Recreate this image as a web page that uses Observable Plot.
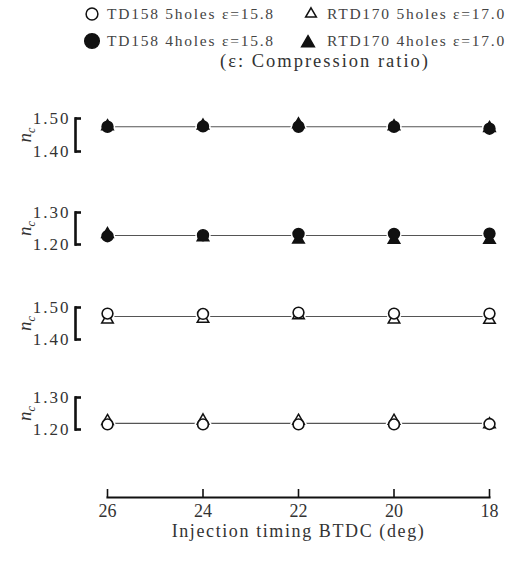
<!DOCTYPE html>
<html><head><meta charset="utf-8">
<script src="https://cdn.jsdelivr.net/npm/d3@7"></script>
<script src="https://cdn.jsdelivr.net/npm/@observablehq/plot@0.6"></script>
<style>
body{margin:0;background:#fff;}
#root{position:relative;width:511px;height:562px;font-family:"Liberation Serif","DejaVu Serif",serif;color:#333;overflow:hidden;}
.leg{position:absolute;font-size:15.5px;letter-spacing:1.75px;color:#444;white-space:nowrap;line-height:1;}
.legsym{position:absolute;overflow:visible;}
</style></head><body><div id="root"></div>
<script>
// ---- data ----
const timing = [26, 24, 22, 20, 18];
const timingTicks = [26, 24, 22, 20, 18];
const xTitle = "Injection timing BTDC (deg)";

const legendLabels = ["TD158 5holes ε=15.8", "RTD170 5holes ε=17.0", "TD158 4holes ε=15.8", "RTD170 4holes ε=17.0"];
const legendNote = "(ε: Compression ratio)";

// panel 1 : 4 holes, 1.40–1.50
const p1Ticks = [1.40, 1.50];
const p1TD158 = [1.475, 1.476, 1.475, 1.475, 1.469];
const p1RTD170 = [1.476, 1.478, 1.482, 1.476, 1.471];
const p1Level = 1.475;
// panel 2 : 4 holes, 1.20–1.30
const p2Ticks = [1.20, 1.30];
const p2TD158 = [1.226, 1.229, 1.233, 1.233, 1.234];
const p2RTD170 = [1.232, 1.222, 1.215, 1.214, 1.214];
const p2Level = 1.228;
// panel 3 : 5 holes, 1.40–1.50
const p3Ticks = [1.40, 1.50];
const p3TD158 = [1.481, 1.480, 1.484, 1.481, 1.481];
const p3RTD170 = [1.462, 1.464, 1.475, 1.462, 1.461];
const p3Level = 1.472;
// panel 4 : 5 holes, 1.20–1.30
const p4Ticks = [1.20, 1.30];
const p4TD158 = [1.216, 1.216, 1.216, 1.216, 1.217];
const p4RTD170 = [1.226, 1.228, 1.227, 1.227, 1.216];
const p4Level = 1.219;

const root = document.getElementById("root");
const ink = "#111";

function legendSym(x, y, kind, filled) {
  const s = document.createElementNS("http://www.w3.org/2000/svg", "svg");
  s.setAttribute("class", "legsym");
  s.setAttribute("width", 20); s.setAttribute("height", 20);
  s.style.left = (x - 10) + "px"; s.style.top = (y - 10) + "px";
  let el;
  if (kind === "circle") {
    el = document.createElementNS("http://www.w3.org/2000/svg", "circle");
    el.setAttribute("cx", 10); el.setAttribute("cy", 10);
    el.setAttribute("r", filled ? 7.3 : 5.9);
  } else {
    el = document.createElementNS("http://www.w3.org/2000/svg", "path");
    el.setAttribute("d", d3.symbol(d3.symbolTriangle, filled ? 70 : 50)());
    el.setAttribute("transform", "translate(10,11)");
  }
  el.setAttribute("fill", filled ? ink : "white");
  el.setAttribute("stroke", ink);
  el.setAttribute("stroke-width", 1.5);
  s.appendChild(el);
  root.appendChild(s);
}
function legendText(x, y, t, cls, extra) {
  const d = document.createElement("div");
  d.className = cls; d.textContent = t;
  d.style.left = x + "px"; d.style.top = y + "px";
  if (extra) Object.assign(d.style, extra);
  root.appendChild(d);
}
legendSym(92, 14, "circle", false);
legendText(107, 6, legendLabels[0], "leg");
legendSym(311, 13, "triangle", false);
legendText(327, 6, legendLabels[1], "leg");
legendSym(92, 41, "circle", true);
legendText(107, 33, legendLabels[2], "leg");
legendSym(308, 42, "triangle", true);
legendText(327, 33, legendLabels[3], "leg");
legendText(220, 52, legendNote, "leg", {fontSize: "18.5px", letterSpacing: "2px", color: "#333"});

function panel(top, bottom, ticks, td, rtd, level, filled, sub) {
  const mt = 16, mb = 16;
  const h = bottom - top + mt + mb;
  const circ = timing.map((t, i) => ({t, v: td[i]}));
  const tri = timing.map((t, i) => ({t, v: rtd[i]}));
  const lvl = timing.map(t => ({t, v: level}));
  const svg = Plot.plot({
    width: 511, height: h, marginTop: mt, marginBottom: mb, marginLeft: 75, marginRight: 22,
    style: {fontFamily: "'Liberation Serif', serif", background: "transparent", overflow: "visible"},
    x: {domain: [26, 18], range: [107, 489], axis: null},
    y: {domain: [ticks[0], ticks[1]], axis: null},
    marks: [
      Plot.frame({anchor: "left", stroke: ink, strokeWidth: 2.6}),
      Plot.axisY({ticks, tickSize: -6, tickPadding: 11, stroke: ink, strokeWidth: 2.6,
        tickFormat: d3.format(".2f"), fontSize: 17, color: "#333",
        label: "n", labelAnchor: "center", labelOffset: 58, labelArrow: false}),
      Plot.lineY(lvl, {x: "t", y: "v", stroke: "#555", strokeWidth: 1.1}),
      Plot.dot(tri, {x: "t", y: "v", symbol: "triangle", r: 4.8, fill: "white", stroke: "white", strokeWidth: 4}),
      Plot.dot(circ, {x: "t", y: "v", r: 5.7, fill: "white", stroke: "white", strokeWidth: 4}),
      Plot.dot(tri, {x: "t", y: "v", symbol: "triangle", r: 4.3, fill: filled ? ink : "white", stroke: ink, strokeWidth: 1.5}),
      Plot.dot(circ, {x: "t", y: "v", r: 5.4, fill: filled ? ink : "white", stroke: ink, strokeWidth: 1.6})
    ]
  });
  svg.style.position = "absolute";
  svg.style.left = "0px";
  svg.style.top = (top - mt) + "px";
  svg.querySelectorAll('g[aria-label="y-axis tick label"] text').forEach(t => t.style.letterSpacing = "2px");
  const lab = svg.querySelector('g[aria-label="y-axis label"] text');
  if (lab) {
    lab.textContent = "";
    lab.style.fontStyle = "italic";
    lab.style.fontSize = "19px";
    lab.setAttribute("fill", "#333");
    const t1 = document.createElementNS("http://www.w3.org/2000/svg", "tspan");
    t1.textContent = "n";
    const t2 = document.createElementNS("http://www.w3.org/2000/svg", "tspan");
    t2.textContent = sub; t2.setAttribute("dy", "0.3em"); t2.setAttribute("font-size", "12px");
    lab.appendChild(t1); lab.appendChild(t2);
  }
  root.appendChild(svg);
}
panel(118, 151, p1Ticks, p1TD158, p1RTD170, p1Level, true, "c");
panel(212, 244, p2Ticks, p2TD158, p2RTD170, p2Level, true, "c");
panel(307, 339, p3Ticks, p3TD158, p3RTD170, p3Level, false, "c");
panel(397, 429, p4Ticks, p4TD158, p4RTD170, p4Level, false, "c");

// x axis
const axTop = 480, axH = 82, axMb = 65;
const ax = Plot.plot({
  width: 511, height: axH, marginTop: 10, marginBottom: axMb, marginLeft: 107, marginRight: 22,
  style: {fontFamily: "'Liberation Serif', serif", background: "transparent", overflow: "visible"},
  x: {domain: [26, 18]},
  y: {axis: null},
  marks: [
    Plot.frame({anchor: "bottom", stroke: ink, strokeWidth: 2.2}),
    Plot.axisX({ticks: timingTicks, tickSize: -8, tickPadding: 15, stroke: ink, strokeWidth: 1.6,
      fontSize: 18, color: "#333", label: xTitle, labelAnchor: "center", labelOffset: 39, labelArrow: false})
  ]
});
ax.style.position = "absolute"; ax.style.left = "0px"; ax.style.top = axTop + "px";
const xl = ax.querySelector('g[aria-label="x-axis label"] text');
if (xl) { xl.style.fontSize = "18px"; xl.style.letterSpacing = "1.6px"; xl.setAttribute("fill", "#333"); }
root.appendChild(ax);
</script>
</body></html>
